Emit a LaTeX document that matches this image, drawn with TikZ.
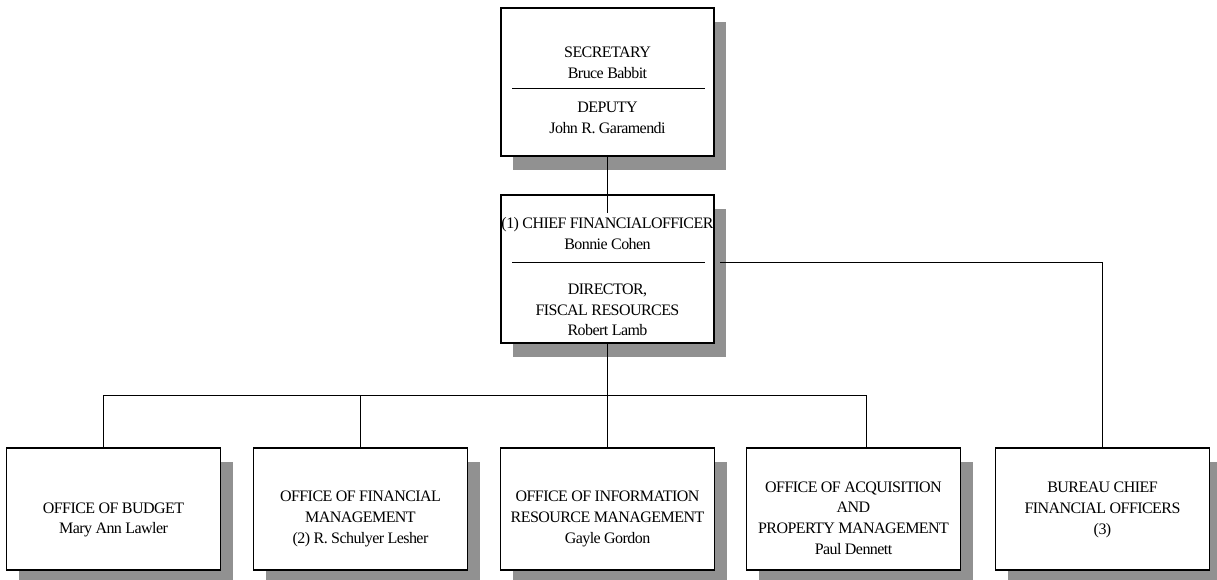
\documentclass[tikz,border=0pt]{standalone}
\usepackage{fontspec}
\setmainfont{Liberation Serif}[LetterSpace=-3.5]
\usepackage{tikz}
\usetikzlibrary{positioning,shadows}

\begin{document}
\begin{tikzpicture}[
  x=0.75pt, y=-0.75pt,
  box/.style={draw, line width=0.9pt, fill=white, inner sep=0pt, outer sep=0pt,
    drop shadow={shadow xshift=9pt, shadow yshift=-10.5pt, fill=black!43, opacity=1}},
  topbox/.style={box, minimum width=159.75pt, minimum height=111pt},
  unitbox/.style={box, minimum width=160.5pt, minimum height=91.5pt},
  lbl/.style={align=center, inner sep=0pt, font=\fontsize{12pt}{15.5pt}\selectfont},
  link/.style={line width=0.7pt},
  divider/.style={line width=0.7pt}
]
\useasboundingbox (0,0) rectangle (1217,579);

% executive boxes
\node[topbox,
  label={[lbl, yshift=14.6pt]center:SECRETARY\\Bruce Babbit},
  label={[lbl, yshift=-27pt]center:DEPUTY\\John R. Garamendi}] (sec) at (607.5,82) {};
\draw[divider] ([xshift=8.25pt, yshift=-4.5pt]sec.west) -- ([xshift=-6.75pt, yshift=-4.5pt]sec.east);

\node[topbox, below=29.25pt of sec,
  label={[lbl, yshift=26.6pt]center:(1) CHIEF FINANCIALOFFICER\\Bonnie Cohen},
  label={[lbl, yshift=-30.75pt]center:DIRECTOR,\\FISCAL RESOURCES\\Robert Lamb}] (cfo) {};
\draw[divider] ([xshift=8.25pt, yshift=5.25pt]cfo.west) -- ([xshift=-6.75pt, yshift=5.25pt]cfo.east);

% offices
\node[unitbox, below=78.75pt of cfo,
  label={[lbl, yshift=-7.5pt]center:OFFICE OF INFORMATION\\RESOURCE MANAGEMENT\\Gayle Gordon}] (inf) {};
\node[unitbox, left=24.75pt of inf,
  label={[lbl, yshift=-7.5pt]center:OFFICE OF FINANCIAL\\MANAGEMENT\\(2) R. Schulyer Lesher}] (fin) {};
\node[unitbox, left=24.75pt of fin,
  label={[lbl, yshift=-8.25pt]center:OFFICE OF BUDGET\\Mary Ann Lawler}] (bud) {};
\node[unitbox, right=24pt of inf,
  label={[lbl, yshift=-6.75pt]center:OFFICE OF ACQUISITION\\AND\\PROPERTY MANAGEMENT\\Paul Dennett}] (acq) {};
\node[unitbox, right=26.25pt of acq,
  label={[lbl, yshift=-0.75pt]center:BUREAU CHIEF\\FINANCIAL OFFICERS\\(3)}] (bur) {};

% connectors
\coordinate[below=39pt of cfo.south] (bus);
\draw[link] (sec.south) -- ([yshift=-13.5pt]cfo.north);
\draw[link] (cfo.south) -- (bus);
\draw[link] ([xshift=-7.5pt]bud.north) |- ([xshift=9.4pt]acq.north |- bus) -- ([xshift=9.4pt]acq.north);
\draw[link] (fin.north |- bus) -- (fin.north);
\draw[link] (bus) -- (inf.north);
\draw[link] ([xshift=4.5pt, yshift=5.25pt]cfo.east) -| (bur.north);

\end{tikzpicture}
\end{document}
